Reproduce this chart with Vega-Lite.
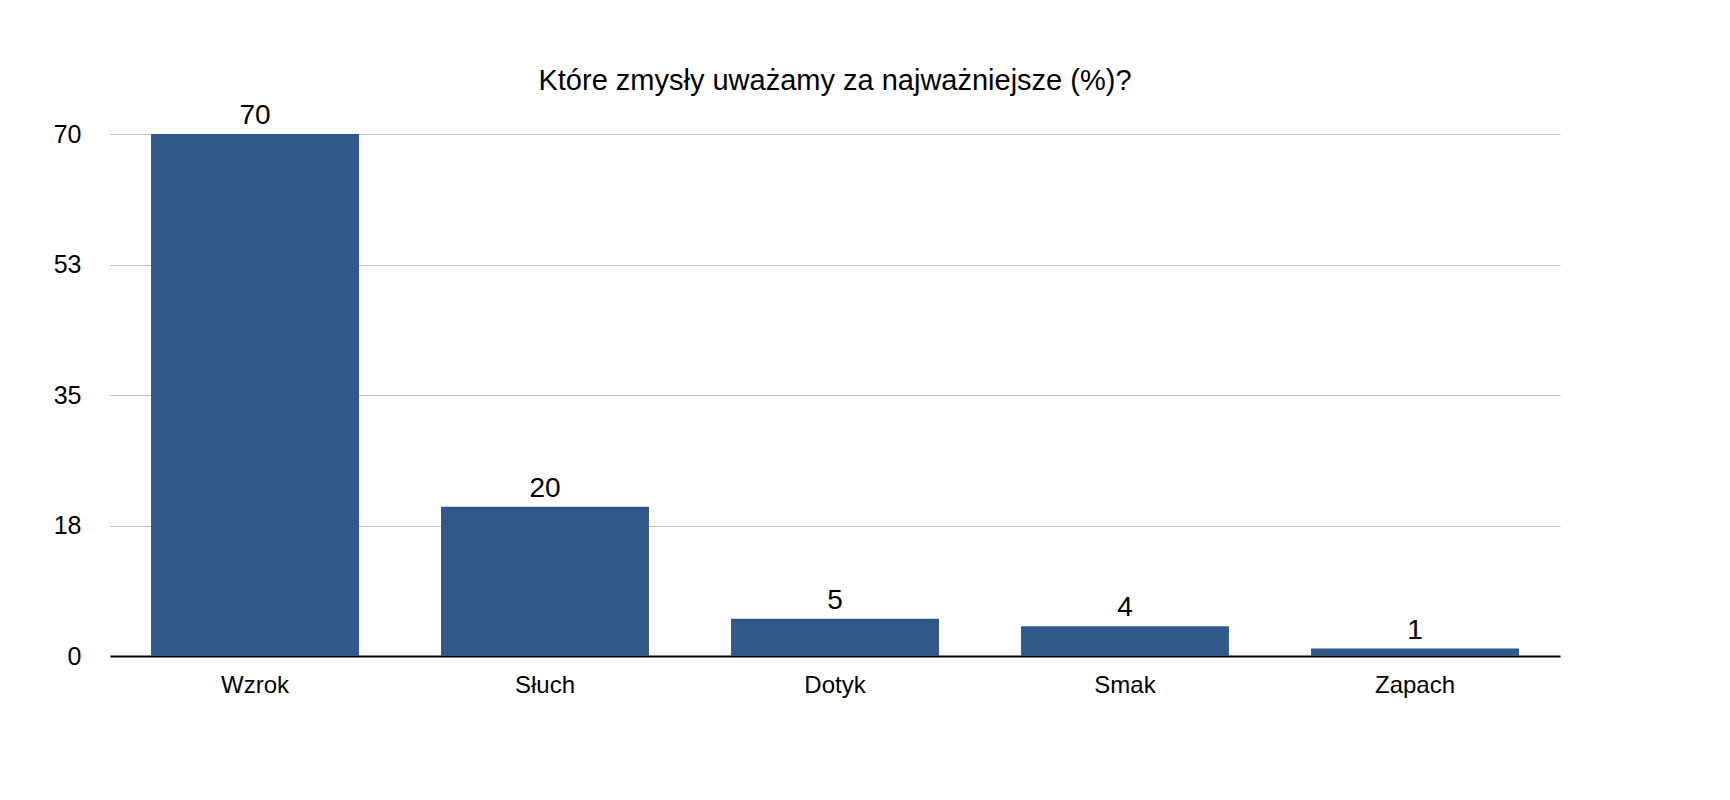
{
  "$schema": "https://vega.github.io/schema/vega-lite/v6.json",
  "autosize": "none",
  "width": 1450,
  "height": 522,
  "padding": {"left": 110, "top": 134, "right": 170, "bottom": 144},
  "background": "white",
  "title": {
    "text": "Które zmysły uważamy za najważniejsze (%)?",
    "frame": "group",
    "anchor": "middle",
    "baseline": "alphabetic",
    "offset": -17,
    "fontSize": 29,
    "fontWeight": "normal",
    "font": "Liberation Sans",
    "color": "#000000"
  },
  "data": {
    "values": [
      {"zmysl": "Wzrok", "procent": 70},
      {"zmysl": "Słuch", "procent": 20},
      {"zmysl": "Dotyk", "procent": 5},
      {"zmysl": "Smak", "procent": 4},
      {"zmysl": "Zapach", "procent": 1}
    ]
  },
  "encoding": {
    "x": {
      "field": "zmysl",
      "type": "nominal",
      "sort": null,
      "title": null,
      "scale": {"paddingInner": 0.283, "paddingOuter": 0.1415},
      "axis": {
        "labelAngle": 0,
        "labelFontSize": 24,
        "labelFont": "Liberation Sans",
        "labelColor": "#000000",
        "labelBaseline": "alphabetic",
        "labelPadding": 36,
        "ticks": false,
        "grid": false,
        "domainColor": "#000000",
        "domainWidth": 2
      }
    },
    "y": {
      "field": "procent",
      "type": "quantitative",
      "title": null,
      "scale": {"domain": [0, 70], "nice": false},
      "axis": {
        "values": [0, 17.5, 35, 52.5, 70],
        "format": ".0f",
        "labelFontSize": 25,
        "labelFont": "Liberation Sans",
        "labelColor": "#000000",
        "labelPadding": 29,
        "ticks": false,
        "domain": false,
        "gridColor": "#bfbfbf",
        "gridWidth": 1
      }
    }
  },
  "layer": [
    {
      "mark": {"type": "bar", "color": "#30598a"}
    },
    {
      "mark": {
        "type": "text",
        "baseline": "alphabetic",
        "dy": -10,
        "fontSize": 28,
        "font": "Liberation Sans",
        "color": "#000000"
      },
      "encoding": {
        "text": {"field": "procent", "type": "quantitative"}
      }
    }
  ],
  "config": {
    "view": {"stroke": null}
  }
}
